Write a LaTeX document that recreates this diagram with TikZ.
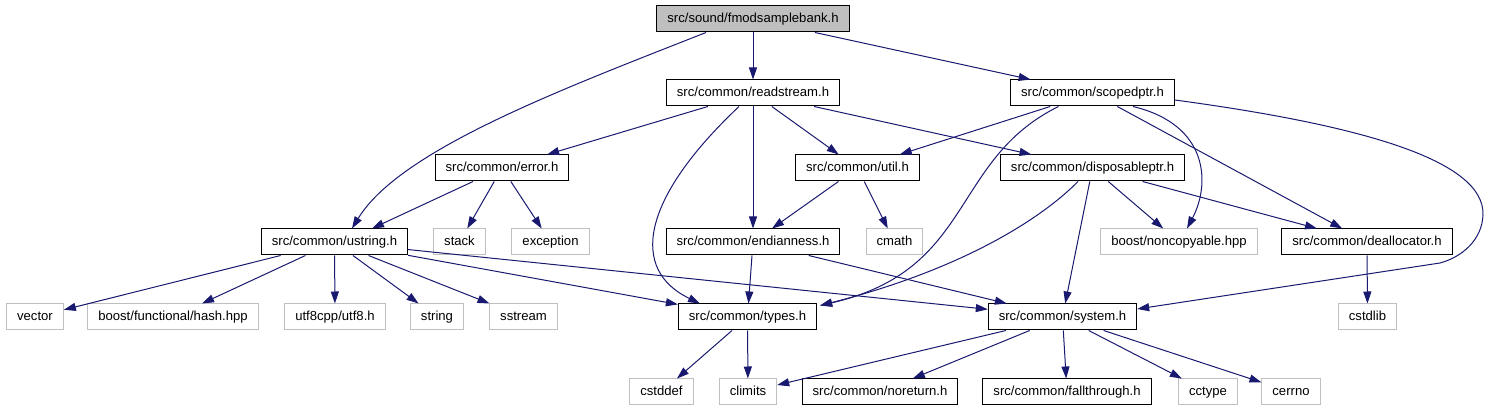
\documentclass[tikz,border=0pt]{standalone}
\usepackage{fontspec}
\setmainfont{Liberation Sans}
\usetikzlibrary{arrows.meta}
\definecolor{edgeBlue}{HTML}{191970}
\definecolor{stdGrey}{HTML}{BFBFBF}
\tikzstyle{fileBox} = [rectangle, draw=black, line width=1pt, minimum height=26pt, inner xsep=10.5pt,
text height=9.5pt, text depth=2.7pt, font=\fontsize{13.1}{15}\selectfont]
\tikzstyle{stdBox} = [fileBox, draw=stdGrey]
\tikzstyle{mainBox} = [fileBox, fill=stdGrey]
\tikzstyle{arrow} = [draw=edgeBlue, line width=1pt, -{Triangle[length=12pt,width=8pt]}, edgeBlue]
\begin{document}
\begin{tikzpicture}[x=1pt, y=-1pt]
    \useasboundingbox (0,0) rectangle (1489,411);

    \node (fmodBank) [mainBox] at (753,19) {src/sound/fmodsamplebank.h};
    \node (readStream) [fileBox] at (753,93) {src/common/readstream.h};
    \node (scopedPtr) [fileBox] at (1092.5,93) {src/common/scopedptr.h};
    \node (error) [fileBox] at (502,168) {src/common/error.h};
    \node (util) [fileBox] at (857.5,168) {src/common/util.h};
    \node (disposablePtr) [fileBox] at (1092.5,168) {src/common/disposableptr.h};
    \node (ustring) [fileBox] at (334.5,242) {src/common/ustring.h};
    \node (stack) [stdBox] at (459.5,242) {stack};
    \node (exception) [stdBox] at (550.5,242) {exception};
    \node (endianness) [fileBox] at (753,242) {src/common/endianness.h};
    \node (cmath) [stdBox] at (894.5,242) {cmath};
    \node (nonCopyable) [stdBox] at (1179,242) {boost/noncopyable.hpp};
    \node (deallocator) [fileBox] at (1367,242) {src/common/deallocator.h};
    \node (vector) [stdBox] at (35,317) {vector};
    \node (hash) [stdBox] at (173,317) {boost/functional/hash.hpp};
    \node (utfEight) [stdBox] at (335,317) {utf8cpp/utf8.h};
    \node (string) [stdBox] at (437,317) {string};
    \node (sstream) [stdBox] at (523.5,317) {sstream};
    \node (types) [fileBox] at (747.5,317) {src/common/types.h};
    \node (system) [fileBox] at (1062.5,317) {src/common/system.h};
    \node (cstdlib) [stdBox] at (1367.5,317) {cstdlib};
    \node (cstddef) [stdBox] at (661.5,392) {cstddef};
    \node (climits) [stdBox] at (748,392) {climits};
    \node (noreturn) [fileBox] at (880,392) {src/common/noreturn.h};
    \node (fallthrough) [fileBox] at (1067,392) {src/common/fallthrough.h};
    \node (cctype) [stdBox] at (1208,392) {cctype};
    \node (cerrno) [stdBox] at (1291,392) {cerrno};

    \draw[arrow] ([xshift=-47pt]fmodBank.south) .. controls (560,90) and (400,150) .. ([xshift=17.5pt]ustring.north);
    \draw[arrow] (fmodBank) -- (readStream);
    \draw[arrow] (fmodBank) -- (scopedPtr);
    \draw[arrow] (readStream) -- (error);
    \draw[arrow] ([xshift=-14pt]readStream.south) .. controls (640,200) and (630,270) .. ([xshift=-47.5pt]types.north);
    \draw[arrow] (readStream) -- (endianness);
    \draw[arrow] (readStream) -- (util);
    \draw[arrow] (readStream) -- (disposablePtr);
    \draw[arrow] (scopedPtr) -- (util);
    \draw[arrow] ([xshift=-34pt]scopedPtr.south) .. controls (950,160) and (975,270) .. ([shift={(3pt,-2pt)}]types.north east);
    \draw[arrow] ([xshift=40.5pt]scopedPtr.south) .. controls (1210,125) and (1210,185) .. ([xshift=8pt]nonCopyable.north);
    \draw[arrow] (scopedPtr) -- (deallocator);
    \draw[arrow] ([yshift=-7pt]scopedPtr.east) .. controls (1360,125) and (1485,160) .. (1483,215)
        .. controls (1482,240) and (1462,257) .. (1440,263) -- ([yshift=8pt]system.east);
    \draw[arrow] (error) -- ([xshift=37.5pt]ustring.north);
    \draw[arrow] (error) -- (stack);
    \draw[arrow] (error) -- (exception);
    \draw[arrow] (util) -- (endianness);
    \draw[arrow] (util) -- (cmath);
    \draw[arrow] ([xshift=-14.5pt]disposablePtr.south) .. controls (1040,220) and (960,270) .. ([shift={(3pt,-2pt)}]types.north east);
    \draw[arrow] (disposablePtr) -- (system);
    \draw[arrow] (disposablePtr) -- (nonCopyable);
    \draw[arrow] (disposablePtr) -- (deallocator);
    \draw[arrow] (ustring) -- (vector);
    \draw[arrow] (ustring) -- (hash);
    \draw[arrow] (ustring) -- (utfEight);
    \draw[arrow] (ustring) -- (string);
    \draw[arrow] (ustring) -- (sstream);
    \draw[arrow] (ustring) -- (types);
    \draw[arrow] (ustring) -- (system);
    \draw[arrow] (endianness) -- (types);
    \draw[arrow] (endianness) -- (system);
    \draw[arrow] (deallocator) -- (cstdlib);
    \draw[arrow] (types) -- (cstddef);
    \draw[arrow] (types) -- (climits);
    \draw[arrow] (system) -- (climits);
    \draw[arrow] (system) -- (noreturn);
    \draw[arrow] (system) -- (fallthrough);
    \draw[arrow] (system) -- (cctype);
    \draw[arrow] (system) -- (cerrno);

    \end{tikzpicture}
\end{document}
